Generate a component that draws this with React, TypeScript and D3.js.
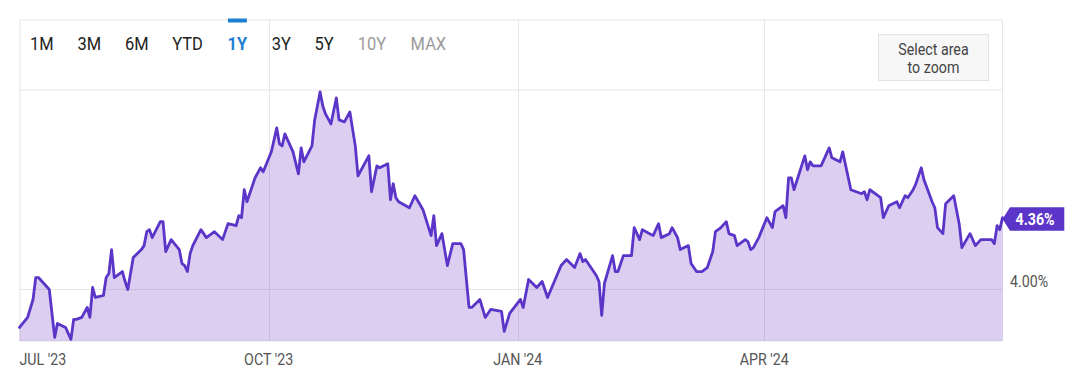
import React from "react";
import * as d3 from "d3";

// ---- data (10-year yield, %) ----
const startDate = "2023-07-01";
const endDate = "2024-06-28";
// trading days, as days after 1 Jul 2023
const dayOffsets = [
  0, 3, 5, 6, 7, 11, 13, 14, 17, 19,
  20, 21, 23, 25, 26, 27, 28, 31, 32, 33,
  34, 35, 38, 39, 40, 42, 45, 46, 47, 48,
  49, 52, 53, 54, 56, 59, 60, 61, 62, 63,
  64, 67, 69, 72, 75, 77, 80, 81, 82, 83,
  84, 87, 89, 90, 93, 95, 96, 97, 98, 101,
  103, 104, 105, 108, 109, 111, 112, 113, 115, 117,
  118, 120, 122, 124, 125, 129, 130, 132, 133, 136,
  137, 138, 139, 140, 144, 146, 149, 152, 153, 154,
  156, 158, 160, 163, 164, 166, 167, 170, 172, 174,
  178, 179, 181, 185, 186, 188, 191, 193, 195, 200,
  202, 205, 207, 208, 209, 213, 214, 215, 216, 219,
  220, 221, 223, 226, 227, 229, 230, 234, 236, 237,
  240, 241, 243, 244, 247, 248, 250, 252, 254, 256,
  257, 259, 261, 262, 264, 265, 268, 269, 270, 271,
  273, 276, 278, 279, 282, 283, 284, 285, 286, 290,
  291, 292, 293, 296, 299, 300, 303, 304, 307, 309,
  311, 312, 313, 314, 316, 318, 319, 321, 324, 325,
  327, 328, 330, 331, 333, 334, 337, 338, 339, 341,
  342, 345, 347, 348, 351, 353, 355, 359, 360, 361,
  362, 363,
];
const yieldValues = [
  3.81, 3.86, 3.95, 4.06, 4.06, 4.0, 3.76, 3.83, 3.81, 3.75,
  3.85, 3.85, 3.86, 3.91, 3.86, 4.01, 3.96, 3.97, 4.06, 4.08,
  4.2, 4.06, 4.09, 4.04, 4.0, 4.16, 4.2, 4.22, 4.29, 4.3,
  4.26, 4.34, 4.34, 4.19, 4.25, 4.2, 4.13, 4.12, 4.09, 4.18,
  4.22, 4.3, 4.26, 4.29, 4.25, 4.33, 4.32, 4.37, 4.36, 4.5,
  4.44, 4.56, 4.61, 4.59, 4.69, 4.81, 4.73, 4.72, 4.78, 4.69,
  4.58, 4.71, 4.64, 4.72, 4.85, 4.99, 4.92, 4.88, 4.83, 4.96,
  4.85, 4.84, 4.89, 4.72, 4.57, 4.67, 4.49, 4.62, 4.61, 4.63,
  4.45, 4.53, 4.46, 4.44, 4.41, 4.47, 4.4, 4.27, 4.37, 4.22,
  4.28, 4.12, 4.23, 4.23, 4.2, 3.91, 3.91, 3.95, 3.86, 3.9,
  3.89, 3.79, 3.88, 3.95, 3.91, 4.05, 4.01, 4.04, 3.96, 4.12,
  4.15, 4.11, 4.18, 4.14, 4.15, 4.07, 4.04, 3.87, 4.03, 4.17,
  4.09, 4.09, 4.17, 4.17, 4.31, 4.25, 4.3, 4.27, 4.33, 4.26,
  4.28, 4.31, 4.26, 4.2, 4.22, 4.13, 4.09, 4.09, 4.11, 4.19,
  4.29, 4.31, 4.34, 4.28, 4.27, 4.22, 4.25, 4.24, 4.2, 4.21,
  4.26, 4.36, 4.31, 4.39, 4.42, 4.36, 4.56, 4.56, 4.5, 4.67,
  4.6, 4.64, 4.62, 4.62, 4.71, 4.66, 4.64, 4.69, 4.5, 4.49,
  4.48, 4.49, 4.45, 4.5, 4.48, 4.46, 4.36, 4.42, 4.44, 4.41,
  4.47, 4.46, 4.5, 4.53, 4.61, 4.55, 4.44, 4.41, 4.31, 4.28,
  4.43, 4.47, 4.33, 4.21, 4.28, 4.22, 4.25, 4.25, 4.23, 4.32,
  4.3, 4.36,
];
const monthTicks = ["2023-07-01", "2023-10-01", "2024-01-01", "2024-04-01"];
const yGridValues = [4.0, 5.0];
const yLabelValues = [4.0];
const rangeButtons = ["1M", "3M", "6M", "YTD", "1Y", "3Y", "5Y", "10Y", "MAX"];
const activeRange = "1Y";
const disabledRanges = ["10Y", "MAX"];

// ---- layout ----
const W = 1084;
const H = 384;
const L = 19.5;
const R = 1002.5;
const TOP = 20;
const BOTTOM = 341;
const buttonCenters = [41.7, 89.2, 136.9, 187.5, 237.4, 281.2, 324, 371.9, 428.4];
const GRID = "#e6e6e6";
const PURPLE = "#5b34c8";
const SX = 0.89; // narrow lettering

function T(props: {
  x: number;
  y: number;
  size: number;
  fill: string;
  anchor?: string;
  weight?: string;
  children: React.ReactNode;
}) {
  return (
    <text
      transform={`translate(${props.x},${props.y}) scale(${SX},1)`}
      fontSize={props.size}
      fill={props.fill}
      textAnchor={props.anchor || "start"}
      fontWeight={props.weight || "normal"}
    >
      {props.children}
    </text>
  );
}

export default function App() {
  const parse = d3.utcParse("%Y-%m-%d");
  const t0 = parse(startDate) as Date;
  const x = d3.scaleUtc().domain([t0, parse(endDate) as Date]).range([L, R]);
  const y = d3.scaleLinear().domain([4, 5]).range([289.5, 90]);
  const data = dayOffsets.map((d, i) => ({ date: d3.utcDay.offset(t0, d), value: yieldValues[i] }));
  const line = d3
    .line<{ date: Date; value: number }>()
    .x((d) => x(d.date))
    .y((d) => y(d.value));
  const area = d3
    .area<{ date: Date; value: number }>()
    .x((d) => x(d.date))
    .y0(BOTTOM)
    .y1((d) => y(d.value));
  const fmt = d3.utcFormat("%b '%y");
  const last = data[data.length - 1];
  const ly = y(last.value) + 1.3;

  return (
    <svg
      width={W}
      height={H}
      style={{ position: "absolute", left: 0, top: 0, background: "#fff" }}
      fontFamily="Roboto, 'Noto Sans', sans-serif"
    >
      {/* frame */}
      <line x1={L} x2={R} y1={TOP} y2={TOP} stroke={GRID} />
      <line x1={L + 0.5} x2={L + 0.5} y1={TOP} y2={BOTTOM} stroke={GRID} />
      <line x1={R} x2={R} y1={TOP} y2={BOTTOM} stroke={GRID} />
      <line x1={L} x2={R} y1={BOTTOM} y2={BOTTOM} stroke={GRID} />
      {/* grid */}
      {yGridValues.map((v) => (
        <line key={v} x1={L} x2={R} y1={y(v)} y2={y(v)} stroke={GRID} />
      ))}
      {monthTicks.slice(1).map((m) => {
        const xx = Math.round(x(parse(m) as Date)) + 0.5;
        return <line key={m} x1={xx} x2={xx} y1={TOP} y2={BOTTOM} stroke={GRID} />;
      })}
      {/* area + line */}
      <path d={area(data) || ""} fill="rgba(110,60,200,0.25)" />
      <path
        d={line(data) || ""}
        fill="none"
        stroke={PURPLE}
        strokeWidth={2.8}
        strokeLinejoin="round"
        strokeLinecap="round"
      />
      {/* x labels */}
      {monthTicks.map((m, i) => (
        <T
          key={m}
          x={i === 0 ? L : x(parse(m) as Date)}
          y={365}
          size={16}
          fill="#555"
          anchor={i === 0 ? "start" : "middle"}
        >
          {fmt(parse(m) as Date).toUpperCase()}
        </T>
      ))}
      {/* y labels */}
      {yLabelValues.map((v) => (
        <T key={v} x={1010} y={y(v) - 3} size={16} fill="#555">
          {v.toFixed(2)}%
        </T>
      ))}
      {/* last value badge */}
      <path
        d={`M${R},${ly} L${R + 7.5},${ly - 11.7} L1064.3,${ly - 11.7} L1064.3,${ly + 11.7} L${R + 7.5},${ly + 11.7} Z`}
        fill={PURPLE}
      />
      <T x={1015.5} y={ly + 5.8} size={16} weight="bold" fill="#fff">
        {last.value.toFixed(2)}%
      </T>
      {/* range buttons */}
      {rangeButtons.map((b, i) => {
        const active = b === activeRange;
        const disabled = disabledRanges.includes(b);
        return (
          <g key={b}>
            {active && <rect x={buttonCenters[i] - 9.5} y={18.5} width={19} height={4} fill="#1d7fd1" />}
            <T
              x={buttonCenters[i]}
              y={49.5}
              size={18.5}
              anchor="middle"
              weight={active ? "bold" : "normal"}
              fill={active ? "#1d7fd1" : disabled ? "#9a9a9a" : "#222"}
            >
              {b}
            </T>
          </g>
        );
      })}
      {/* zoom button */}
      <rect x={878.5} y={34.5} width={110} height={46} fill="#f7f7f7" stroke="#e2e2e2" />
      <T x={933.5} y={55} size={16} fill="#444" anchor="middle">
        Select area
      </T>
      <T x={933.5} y={73.3} size={16} fill="#444" anchor="middle">
        to zoom
      </T>
    </svg>
  );
}
